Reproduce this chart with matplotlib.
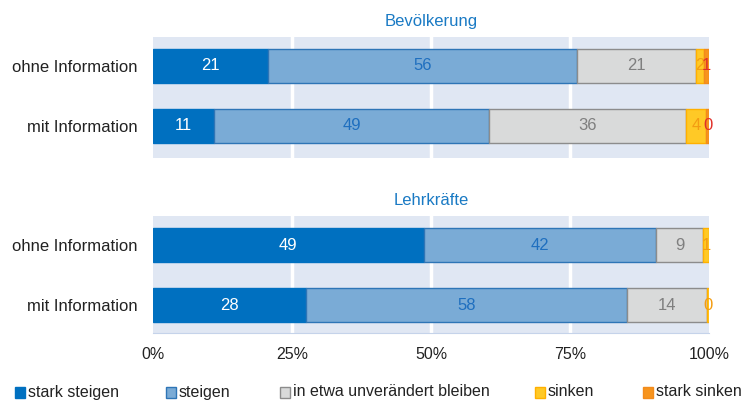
import matplotlib.pyplot as plt
from matplotlib.patches import Rectangle

plt.rcParams['font.family'] = ['Liberation Sans', 'DejaVu Sans']

rows = ["ohne Information", "mit Information"]
categories = ["stark steigen", "steigen", "in etwa unverändert bleiben", "sinken", "stark sinken"]
# shares in percent, labels as printed
bevoelkerung = [[20.7, 55.6, 21.4, 1.4, 0.9], [11.0, 49.5, 35.4, 3.6, 0.5]]
lehrkraefte = [[48.7, 41.7, 8.6, 1.0, 0.0], [27.5, 57.7, 14.4, 0.4, 0.0]]
bev_labels = [["21", "56", "21", "2", "1"], ["11", "49", "36", "4", "0"]]
lehr_labels = [["49", "42", "9", "1", ""], ["28", "58", "14", "0", ""]]
ticks = [0, 25, 50, 75, 100]
tick_labels = ["0%", "25%", "50%", "75%", "100%"]

face = ["#0070C0", "#7AABD6", "#D9DADA", "#FFC926", "#F7941D"]
edge = ["#0070C0", "#2E75B6", "#8C8C8C", "#FFB000", "#F28B1C"]
txt = ["white", "#1F6FBF", "#7F7F7F", "#F39C12", "#E0302A"]
bg = "#E0E7F3"
title_col = "#1A7AC4"

W, H = 742, 401
fig = plt.figure(figsize=(W / 100, H / 100), dpi=100)


def panel(top, bottom, data, labels, title):
    ax = fig.add_axes([153 / W, 1 - bottom / H, 556 / W, (bottom - top) / H])
    ax.set_facecolor(bg)
    ax.set_xlim(0, 100)
    # rows at 0 and 1, 60 px apart
    ax.set_ylim(1 + (bottom - top - 12 - 17 - 60) / 60, -(12 + 17) / 60)
    for x in [25, 50, 75]:
        ax.axvline(x, color="white", lw=2.5, zorder=1)
    for r, vals in enumerate(data):
        tot = sum(vals)
        left = 0
        for k, v in enumerate(vals):
            w = v / tot * 100
            if w > 0:
                ax.barh(r, w, left=left, height=34 / 60, color=face[k],
                        edgecolor=edge[k], lw=1, zorder=2)
            lab = labels[r][k]
            if lab:
                ax.text(left + w / 2, r, lab, ha="center", va="center",
                        color=txt[k], fontsize=12, zorder=3)
            left += w
    ax.set_yticks(range(len(rows)))
    ax.set_yticklabels(rows, fontsize=12, color="#222222")
    ax.tick_params(axis="y", length=0, pad=11)
    for s in ax.spines.values():
        s.set_visible(False)
    ax.set_title(title, color=title_col, fontsize=12, pad=8)
    return ax


ax1 = panel(37, 158, bevoelkerung, bev_labels, "Bevölkerung")
ax1.set_xticks([])
ax2 = panel(216, 333, lehrkraefte, lehr_labels, "Lehrkräfte")
ax2.set_xticks(ticks)
ax2.set_xticklabels(tick_labels, fontsize=11.5, color="#222222")
ax2.tick_params(axis="x", length=0, pad=10)
ax2.spines["bottom"].set_visible(True)
ax2.spines["bottom"].set_color("#C5D3EA")

legend_x = [15, 166, 280, 535, 643]
for k, name in enumerate(categories):
    x = legend_x[k]
    fig.patches.append(Rectangle((x / W, 1 - 398 / H), 10 / W, 11 / H,
                                 transform=fig.transFigure, facecolor=face[k],
                                 edgecolor=edge[k], lw=1))
    fig.text((x + 13) / W, 1 - 392 / H, name, fontsize=11.5, va="center",
             color="#222222")

fig.savefig("out.png", dpi=100)
